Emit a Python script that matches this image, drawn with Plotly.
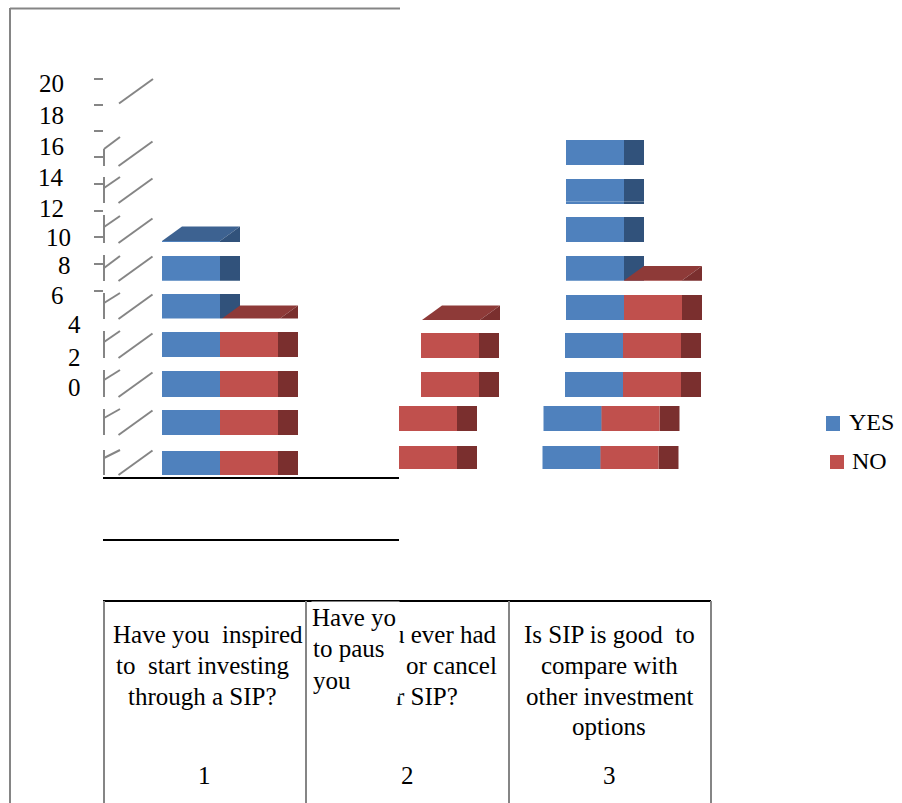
import plotly.graph_objects as go

# Survey answers per question
questions = [1, 2, 3]
yes_counts = [12, None, 18]
no_counts = [8, 8, 10]
axis_labels = ["20", "18", "16", "14", "12", "10", "8", "6", "4", "2", "0"]
series_names = ["YES", "NO"]

W, H = 902, 803
ZERO_PX, PX_PER_UNIT = 478.0, 19.75
CATEGORY_PX, FIRST_CENTER_PX = 202.0, 220.0

COL_W = 58 / CATEGORY_PX
DEPTH_X = 20 / CATEGORY_PX
DEPTH_Y = 14.5 / PX_PER_UNIT

COLORS = {
    "YES": {"front": "#4f81bd", "side": "#31527b", "top": "#3d6291"},
    "NO": {"front": "#c0504d", "side": "#7a2f2e", "top": "#8e3a38"},
}
GREY = "#858585"
SERIF = "Liberation Serif"
FONT_SIZE = 25

# Sideways slip of the lower slices of each column, in pixels
ROW_SLIP = {
    1: [0, 0, 0, 0, 0, 0, 0, 0, 0, 0],
    2: [-23, -23, -1, -1, 0, 0, 0, 0, 0, 0],
    3: [-23.5, -22.5, -1, -1, 0, 0, 0, 0, 0, 0],
}


def paper_x(px):
    return px / W


def paper_y(px):
    return 1 - px / H


def hline(x0, x1, y, color, width=2):
    return dict(type="line", xref="paper", yref="paper", x0=paper_x(x0), x1=paper_x(x1),
                y0=paper_y(y), y1=paper_y(y), line=dict(color=color, width=width))


def seg(x0, y0, x1, y1, color=GREY, width=2):
    return dict(type="line", xref="paper", yref="paper", x0=paper_x(x0), x1=paper_x(x1),
                y0=paper_y(y0), y1=paper_y(y1), line=dict(color=color, width=width))


def block(x0, x1, y0, y1):
    return dict(type="rect", xref="paper", yref="paper", x0=paper_x(x0), x1=paper_x(x1),
                y0=paper_y(y0), y1=paper_y(y1), fillcolor="white", line=dict(width=0))


def column_traces(name, counts, left_shift):
    """Front, side and top faces of one series, sliced into two-unit rows."""
    front_x, side_x, bases, heights = [], [], [], []
    tops = []
    for q, value in zip(questions, counts):
        if value is None:
            continue
        row = 0
        while row * 2 < value:
            slip = ROW_SLIP[q][row] / CATEGORY_PX
            top = min(row * 2 + 2, value)
            front_x.append(q + left_shift + slip)
            side_x.append(q + left_shift + slip + COL_W)
            bases.append(row * 2)
            heights.append(top - row * 2)
            row += 1
        tops.append((q + left_shift + ROW_SLIP[q][row] / CATEGORY_PX, value))

    colors = COLORS[name]
    traces = [
        go.Bar(x=side_x, y=heights, base=bases, width=DEPTH_X, offset=0,
               marker=dict(color=colors["side"], line=dict(width=0)), showlegend=False),
        go.Bar(x=front_x, y=heights, base=bases, width=COL_W, offset=0,
               marker=dict(color=colors["front"], line=dict(width=0)), name=name, showlegend=False),
    ]
    for x0, value in tops:
        traces.append(go.Scatter(
            x=[x0, x0 + DEPTH_X, x0 + COL_W + DEPTH_X, x0 + COL_W, x0],
            y=[value, value + DEPTH_Y, value + DEPTH_Y, value, value],
            mode="lines", fill="toself", fillcolor=colors["top"],
            line=dict(width=0), showlegend=False))
        traces.append(go.Scatter(
            x=[x0 + COL_W, x0 + COL_W + DEPTH_X, x0 + COL_W + DEPTH_X, x0 + COL_W],
            y=[value, value + DEPTH_Y, value, value],
            mode="lines", fill="toself", fillcolor=colors["side"],
            line=dict(width=0), showlegend=False))
    return traces


fig = go.Figure()
for trace in column_traces("YES", yes_counts, -COL_W):
    fig.add_trace(trace)
for trace in column_traces("NO", no_counts, 0):
    fig.add_trace(trace)

shapes = []

# White strips separating the slices of the columns
for low, high in [(475, 479), (435, 451), (397, 410), (357, 371), (318.5, 332), (281, 294), (242, 256)]:
    shapes.append(block(155, 305, low, high))
for low, high in [(469, 479), (431, 446), (397, 406), (358, 372), (320, 333), (281, 295),
                  (242, 256), (204, 217), (165, 179), (100, 140)]:
    shapes.append(block(399, 720, low, high))

# Page frame, base rules and table grid
shapes += [
    seg(10, 8, 10, H, GREY, 2),
    hline(10, 400, 8.5, GREY, 2),
    hline(103, 399, 478, "black", 2),
    hline(103, 399, 540, "black", 2),
    hline(103, 711, 601, "black", 2),
]
for x in [104, 306, 509, 711]:
    shapes.append(seg(x, 601, x, H, GREY, 2))

# Axis tick dashes
for y in [79, 105, 131, 157, 184, 211, 237, 264, 291]:
    shapes.append(hline(94, 103, y, GREY, 2))

# Fragments of the back wall and its gridlines
wall_bands = [
    (149, 166, 149, 137), (177, 203, 188, 177), (215, 243, 227, 216), (255, 281, 268, 256),
    (293, 319, 303, 293), (331, 358, 342, 331), (370, 397, 380, 370), (409, 435, 418, 409),
    (450, 475, 458, 450),
]
for top, bottom, short_low, short_high in wall_bands:
    shapes.append(seg(104, top, 104, bottom))
    shapes.append(seg(104, short_low, 120, short_high))
    shapes.append(seg(118.5, bottom, 152.5, bottom - 24.5))
shapes.append(seg(119, 103.5, 153, 79))

# Legend swatches
shapes.append(dict(type="rect", xref="paper", yref="paper", x0=paper_x(826), x1=paper_x(840),
                   y0=paper_y(416), y1=paper_y(431), fillcolor=COLORS["YES"]["front"], line=dict(width=0)))
shapes.append(dict(type="rect", xref="paper", yref="paper", x0=paper_x(830), x1=paper_x(844),
                   y0=paper_y(455), y1=paper_y(469), fillcolor=COLORS["NO"]["front"], line=dict(width=0)))


def label(text, x, y, anchor="center", size=FONT_SIZE, **extra):
    return dict(text=text, xref="paper", yref="paper", x=paper_x(x), y=paper_y(y),
                xanchor=anchor, yanchor="middle", showarrow=False, borderpad=0,
                font=dict(family=SERIF, size=size, color="black"), **extra)


NB = "\u00a0"
annotations = []

label_y = [84, 115, 146, 177, 209, 237, 265, 295, 324, 357, 388]
label_right = [65, 65, 65, 65, 65, 71.5, 71.5, 65, 81.5, 81.5, 81.5]
for text, y, right in zip(axis_labels, label_y, label_right):
    annotations.append(label(text, right, y, "right"))

annotations += [
    label(f"Have{NB}you{NB}{NB}inspired", 207.5, 634),
    label(f"to{NB}{NB}start investing", 202.5, 665),
    label("through a SIP?", 202, 696),
    label("u ever had", 498, 634, "right"),
    label("or cancel", 498, 665, "right"),
    label("r SIP?", 459, 696, "right"),
    label("Have yo", 311, 617, "left", bgcolor="white", width=87, height=30, align="left"),
    label("to paus", 312, 648, "left", bgcolor="white", width=86, height=32, align="left"),
    label("you", 312, 680, "left", bgcolor="white", width=86, height=32, align="left"),
    label(f"Is SIP is good{NB}{NB}to", 609, 634),
    label("compare with", 609, 665),
    label("other investment", 609, 696),
    label("options", 609, 726),
]
for q, x in zip(questions, [204, 407, 609]):
    annotations.append(label(str(q), x, 775))

annotations.append(label(series_names[0], 847.5, 422, "left", size=24))
annotations.append(label(series_names[1], 850.5, 461, "left", size=24))

fig.update_layout(
    width=W, height=H, autosize=False,
    margin=dict(l=0, r=0, t=0, b=0),
    paper_bgcolor="white", plot_bgcolor="white",
    barmode="overlay", showlegend=False, hovermode=False,
    shapes=shapes, annotations=annotations,
    xaxis=dict(visible=False, fixedrange=True,
               range=[1 - FIRST_CENTER_PX / CATEGORY_PX, 1 + (W - FIRST_CENTER_PX) / CATEGORY_PX]),
    yaxis=dict(visible=False, fixedrange=True,
               range=[(ZERO_PX - H) / PX_PER_UNIT, ZERO_PX / PX_PER_UNIT]),
)

fig.write_html("out.html", config={"displayModeBar": False})
